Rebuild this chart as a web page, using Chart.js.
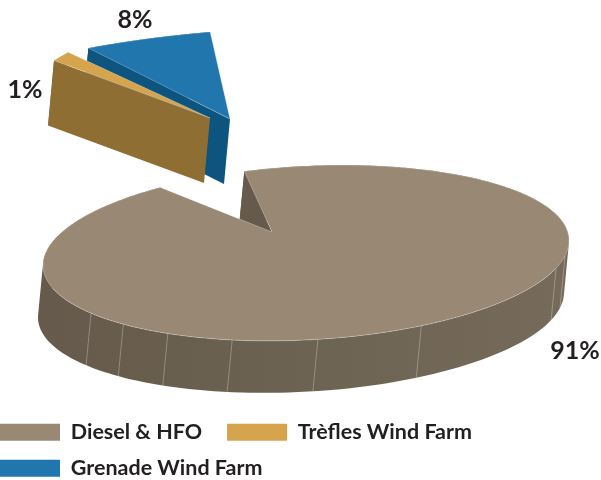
<!DOCTYPE html>
<html>
<head>
<meta charset="utf-8">
<style>
  html, body { margin: 0; padding: 0; background: #fff; }
  canvas { display: block; }
</style>
<script src="https://cdn.jsdelivr.net/npm/chart.js@4"></script>
</head>
<body>
<canvas id="chart" width="601" height="480"></canvas>
<script>
const categories = ['Diesel & HFO', 'Trèfles Wind Farm', 'Grenade Wind Farm'];
const shares = [91, 1, 8];

const topColors = ['#998873', '#d6a44c', '#2176ae'];
const wallColors = ['#665a4c', '#8f6e34', '#0d547f'];
const drawOrder = [0, 2, 1];

// where the percent labels sit
const labelSpots = [[575, 351], [25, 90], [135, 20]];

// the drawing is a tilted ellipse seen in perspective, so far-side angles get squeezed
const view = { cx: 306, cy: 253, a: 263, b: 87, tilt: -0.047, squeeze: 0.45, dir: -116.4 };
const hub = [272, 232];

// pulled out slices: new hub and a 2x2 stretch, main slice stays put
const pulled = [
  null,
  { hub: [210, 118], m: [1.56, -0.407, -0.371, 2.219], depth: [-6, 65] },
  { hub: [230, 119], m: [1.547, -0.379, 0.0455, 1.414], depth: [-6, 65] }
];
const mainDepth = [-5, 52];

// facet lines on the front wall, ellipse angle in degrees
const seams = [10, 18, 64, 87.4, 106.3, 121.7, 134, 144.8];

const rad = d => d * Math.PI / 180;

function ellipsePoint(t) {
  const c = Math.cos(t) * view.a, s = Math.sin(t) * view.b;
  return [view.cx + c, view.cy + c * view.tilt + s];
}

function rimPoint(theta) {
  const dir = rad(view.dir), k = view.squeeze;
  const along = Math.cos(theta - dir), perp = Math.sin(theta - dir);
  const x = (along + k) / (1 + k * along);
  const y = perp * Math.sqrt(1 - k * k) / (1 + k * along);
  return ellipsePoint(Math.atan2(y, x) + dir);
}

function place(pt, i) {
  const p = pulled[i];
  if (!p) return pt;
  const dx = pt[0] - hub[0], dy = pt[1] - hub[1];
  return [p.hub[0] + p.m[0] * dx + p.m[1] * dy, p.hub[1] + p.m[2] * dx + p.m[3] * dy];
}

function addPoly(ctx, pts) {
  pts.forEach((p, i) => i ? ctx.lineTo(p[0], p[1]) : ctx.moveTo(p[0], p[1]));
  ctx.closePath();
}

function tracePath(ctx, pts) {
  ctx.beginPath();
  addPoly(ctx, pts);
}

function polyArea(pts) {
  let sum = 0;
  pts.forEach((p, i) => {
    const q = pts[(i + 1) % pts.length];
    sum += p[0] * q[1] - q[0] * p[1];
  });
  return sum;
}

function drawSlice(ctx, arc, i) {
  const depth = pulled[i] ? pulled[i].depth : mainDepth;
  const drop = p => [p[0] + depth[0], p[1] + depth[1]];
  const rim = [];
  for (let n = 0; n <= 240; n++) {
    const theta = arc.startAngle + (arc.endAngle - arc.startAngle) * n / 240;
    rim.push(place(rimPoint(theta), i));
  }
  const apex = place(hub, i);

  let wallFill = wallColors[i];
  if (i === 0) {
    wallFill = ctx.createLinearGradient(40, 0, 565, 0);
    wallFill.addColorStop(0, '#655a4b');
    wallFill.addColorStop(0.45, '#6c6251');
    wallFill.addColorStop(1, '#766b5a');
  }

  // outer wall: one path of same-winding quads so the silhouette at both ends fills
  ctx.beginPath();
  for (let n = 0; n < rim.length - 1; n++) {
    const quad = [rim[n], rim[n + 1], drop(rim[n + 1]), drop(rim[n])];
    addPoly(ctx, polyArea(quad) < 0 ? quad.reverse() : quad);
  }
  ctx.fillStyle = wallFill;
  ctx.fill();

  if (i === 0) {
    ctx.strokeStyle = 'rgba(255,255,255,0.28)';
    ctx.lineWidth = 1;
    seams.forEach(d => {
      const p = ellipsePoint(rad(d)), q = drop(p);
      ctx.beginPath();
      ctx.moveTo(p[0], p[1]);
      ctx.lineTo(q[0], q[1]);
      ctx.stroke();
    });
  }

  // cut face on the start side
  tracePath(ctx, [rim[0], apex, drop(apex), drop(rim[0])]);
  ctx.fillStyle = wallColors[i];
  ctx.fill();

  // top
  tracePath(ctx, [apex].concat(rim));
  ctx.fillStyle = topColors[i];
  ctx.fill();
  ctx.strokeStyle = 'rgba(255,255,255,0.4)';
  ctx.lineWidth = 0.7;
  ctx.stroke();
}

const pie3d = {
  id: 'pie3d',
  beforeDatasetDraw(chart, args) {
    const arcs = chart.getDatasetMeta(args.index).data;
    const ctx = chart.ctx;
    ctx.save();
    drawOrder.forEach(i => drawSlice(ctx, arcs[i], i));
    ctx.restore();
    return false;
  },
  afterDatasetsDraw(chart) {
    const ctx = chart.ctx;
    ctx.save();
    ctx.font = 'bold 25px Lato';
    ctx.fillStyle = '#231f20';
    ctx.textAlign = 'center';
    ctx.textBaseline = 'middle';
    shares.forEach((v, i) => ctx.fillText(v + '%', labelSpots[i][0], labelSpots[i][1]));
    ctx.restore();
  },
  afterLayout(chart) {
    // legend swatches touch the left edge and sit lower than the default spot
    chart.legend.left -= chart.options.plugins.legend.labels.padding;
    chart.legend.top += 9;
  }
};

new Chart(document.getElementById('chart'), {
  type: 'pie',
  data: {
    labels: categories,
    datasets: [{
      data: shares,
      backgroundColor: topColors,
      borderWidth: 0
    }]
  },
  options: {
    responsive: false,
    animation: false,
    rotation: -5.7,
    plugins: {
      tooltip: { enabled: false },
      legend: {
        position: 'bottom',
        align: 'start',
        labels: {
          boxWidth: 60,
          boxHeight: 17,
          padding: 14.5,
          color: '#231f20',
          font: { family: 'Lato', size: 21.5, weight: 'bold' },
          generateLabels(chart) {
            const items = Chart.overrides.pie.plugins.legend.labels.generateLabels(chart);
            // wider gap before the second entry, padding is tied to the row height
            items[0].text += '  ';
            return items;
          }
        }
      }
    }
  },
  plugins: [pie3d]
});
</script>
</body>
</html>
